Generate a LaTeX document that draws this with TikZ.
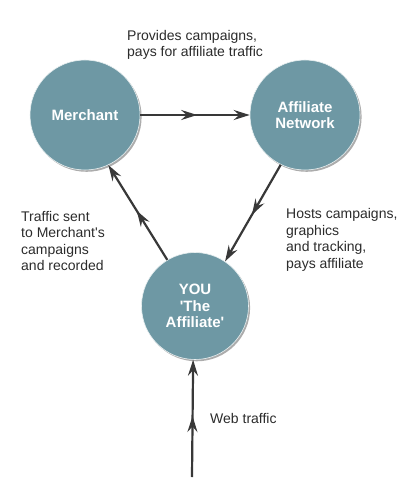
\documentclass[tikz,border=0pt]{standalone}
\usepackage{fontspec}
\setmainfont{Liberation Sans}
\usetikzlibrary{arrows.meta,decorations.markings,shadows,positioning,calc}
\definecolor{partyfill}{HTML}{6E98A4}
\definecolor{flowgray}{HTML}{383838}
\definecolor{notegray}{HTML}{2B2B2B}

\begin{document}
\begin{tikzpicture}[x=1pt,y=1pt,
    party/.style={circle, minimum size=110pt, inner sep=0pt, fill=partyfill,
        draw=white!85!partyfill, line width=0.6pt,
        drop shadow={shadow xshift=1.6pt, shadow yshift=-1.8pt, fill=black!65},
        text=white, align=center, font=\fontsize{15}{16.5}\selectfont\bfseries},
    flow/.style={draw=flowgray, line width=2.2pt,
        -{Stealth[length=16pt,width=10pt,inset=5.5pt]},
        postaction={decorate}},
    midarrow/.style={decoration={markings,
        mark=at position #1 with {\arrow[flowgray]{Stealth[length=16pt,width=10pt,inset=5.5pt]}}}},
    note/.style={text=notegray, align=left, anchor=west, inner sep=0pt,
        font=\fontsize{14}{16.5}\selectfont}]
                    \useasboundingbox (0,0) rectangle (417,-500);
                    \node[party] (merchant) at (85,-115) {Merchant};
                    \node[party] (network) at (305,-115) {Affiliate\\Network};
                    \node[party, minimum size=107pt] (you) at (195,-306) {YOU\\\textquotesingle The\\Affiliate\textquotesingle};
                    \coordinate (web) at (192,-477);
                    \draw[flow, midarrow=0.52] (merchant.east) -- (network.west);
                    \draw[flow, midarrow=0.52] (network.-116) -- (you.56);
                    \draw[flow, midarrow=0.52] (you.121) -- (merchant.-65);
                    \draw[flow, midarrow=0.52] (web) -- (you.-92);
                    \node[note] (provides) at (127,-45) {Provides campaigns,\\pays for affiliate traffic};
                    \node[note] (hosts) at (286,-240) {Hosts campaigns,\\graphics\\and tracking,\\pays affiliate};
                    \node[note] (sent) at (21,-241) {Traffic sent\\to Merchant\textquotesingle s\\campaigns\\and recorded};
                    \node[note] (webtraffic) at (210,-418) {Web traffic};
                \end{tikzpicture}
\end{document}
